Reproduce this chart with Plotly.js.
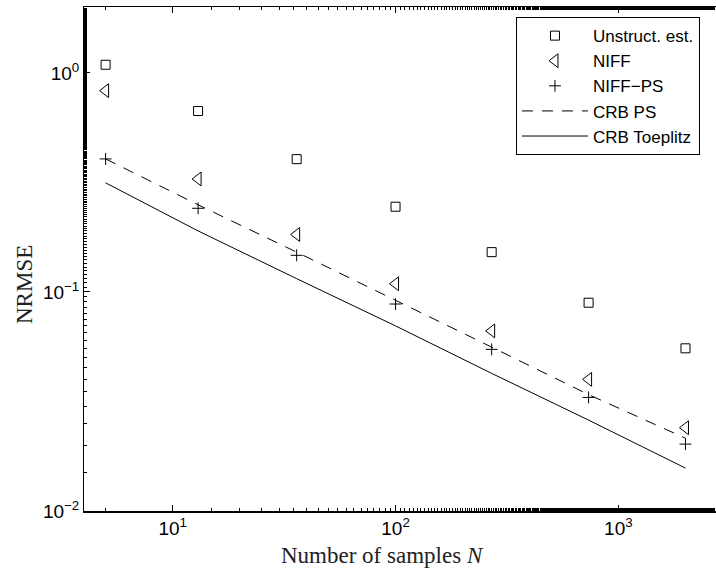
<!DOCTYPE html>
<html>
<head>
<meta charset="utf-8">
<script src="https://cdn.plot.ly/plotly-3.0.1.min.js"></script>
<style>html,body{margin:0;padding:0;background:#fff;}#chart{width:716px;height:572px;}</style>
</head>
<body>
<div id="chart"></div>
<script>
// Number of samples N
const samplesN = [5, 13, 36, 100, 270, 735, 2000];
// Series (NRMSE)
const unstructEst = [1.09, 0.67, 0.404, 0.245, 0.152, 0.0893, 0.0553];
const niff = [0.83, 0.328, 0.183, 0.109, 0.0664, 0.0399, 0.0240];
const niffPS = [0.405, 0.241, 0.147, 0.0881, 0.0547, 0.0330, 0.0202];
const crbPS = [0.405, 0.25, 0.152, 0.092, 0.056, 0.034, 0.0215];
const crbToeplitz = [0.315, 0.19, 0.115, 0.070, 0.0425, 0.026, 0.0157];
const seriesNames = ["Unstruct. est.", "NIFF", "NIFF\u2212PS", "CRB PS", "CRB Toeplitz"];
const xTickVals = [10, 100, 1000];
const xTickText = ["10<sup>1</sup>", "10<sup>2</sup>", "10<sup>3</sup>"];
const yTickVals = [0.01, 0.1, 1];
const yTickText = ["10<sup>\u22122</sup>", "10<sup>\u22121</sup>", "10<sup>0</sup>"];
const xTitle = "Number of samples <i>N</i>";
const yTitle = "NRMSE";

const black = "#000";
const traces = [
  {x: samplesN, y: unstructEst, name: seriesNames[0], mode: "markers",
   marker: {symbol: "square-open", size: 9, color: black, line: {width: 1, color: black}}},
  {x: samplesN, y: niff, name: seriesNames[1], mode: "markers",
   marker: {symbol: "triangle-left-open", size: 12, color: black, line: {width: 1, color: black}}},
  {x: samplesN, y: niffPS, name: seriesNames[2], mode: "markers",
   marker: {symbol: "cross-thin-open", size: 8.5, color: black, line: {width: 1, color: black}}},
  {x: samplesN, y: crbPS, name: seriesNames[3], mode: "lines",
   line: {color: black, width: 1, dash: "11px,9px"}},
  {x: samplesN, y: crbToeplitz, name: seriesNames[4], mode: "lines",
   line: {color: black, width: 1}}
];

const tickFont = {family: "Liberation Sans, Arial, sans-serif", size: 19, color: "#000"};
const titleFont = {family: "Liberation Serif, Times New Roman, serif", size: 23, color: "#222"};

const layout = {
  width: 716, height: 572,
  margin: {l: 84, r: 0, t: 7, b: 61},
  paper_bgcolor: "#fff", plot_bgcolor: "#fff",
  showlegend: true,
  legend: {
    x: 0.6835, y: 0.98, xanchor: "left", yanchor: "top",
    bgcolor: "#fff", bordercolor: "#000", borderwidth: 1,
    font: {family: "Liberation Sans, Arial, sans-serif", size: 17, color: "#000"},
    itemwidth: 66, traceorder: "normal", tracegroupgap: 0
  },
  xaxis: {
    type: "log", range: [Math.log10(4), 3.438],
    showgrid: false, zeroline: false,
    showline: true, linecolor: "#000", linewidth: 1.5, mirror: "ticks",
    ticks: "inside", ticklen: 6, tickcolor: "#000", tickwidth: 1,
    tickvals: xTickVals, ticktext: xTickText, tickfont: tickFont,
    minor: {ticks: "inside", ticklen: 3, tickcolor: "#000", showgrid: false}
  },
  yaxis: {
    type: "log", range: [-2, Math.log10(2)],
    showgrid: false, zeroline: false,
    showline: true, linecolor: "#000", linewidth: 1, mirror: false,
    ticks: "inside", ticklen: 6, tickcolor: "#000", tickwidth: 1,
    tickvals: yTickVals, ticktext: yTickText, tickfont: tickFont,
    minor: {ticks: "inside", ticklen: 3, tickcolor: "#000", showgrid: false}
  },
  annotations: [
    {text: xTitle, xref: "paper", yref: "paper", x: (382 - 84) / 632, y: (511 - 555) / 504,
     xanchor: "center", yanchor: "middle", showarrow: false, font: titleFont},
    {text: yTitle, xref: "paper", yref: "paper", x: (24 - 84) / 632, y: (511 - 284) / 504,
     xanchor: "center", yanchor: "middle", textangle: -90, showarrow: false, font: titleFont}
  ]
};

Plotly.newPlot("chart", traces, layout, {displayModeBar: false, staticPlot: true});
</script>
</body>
</html>
